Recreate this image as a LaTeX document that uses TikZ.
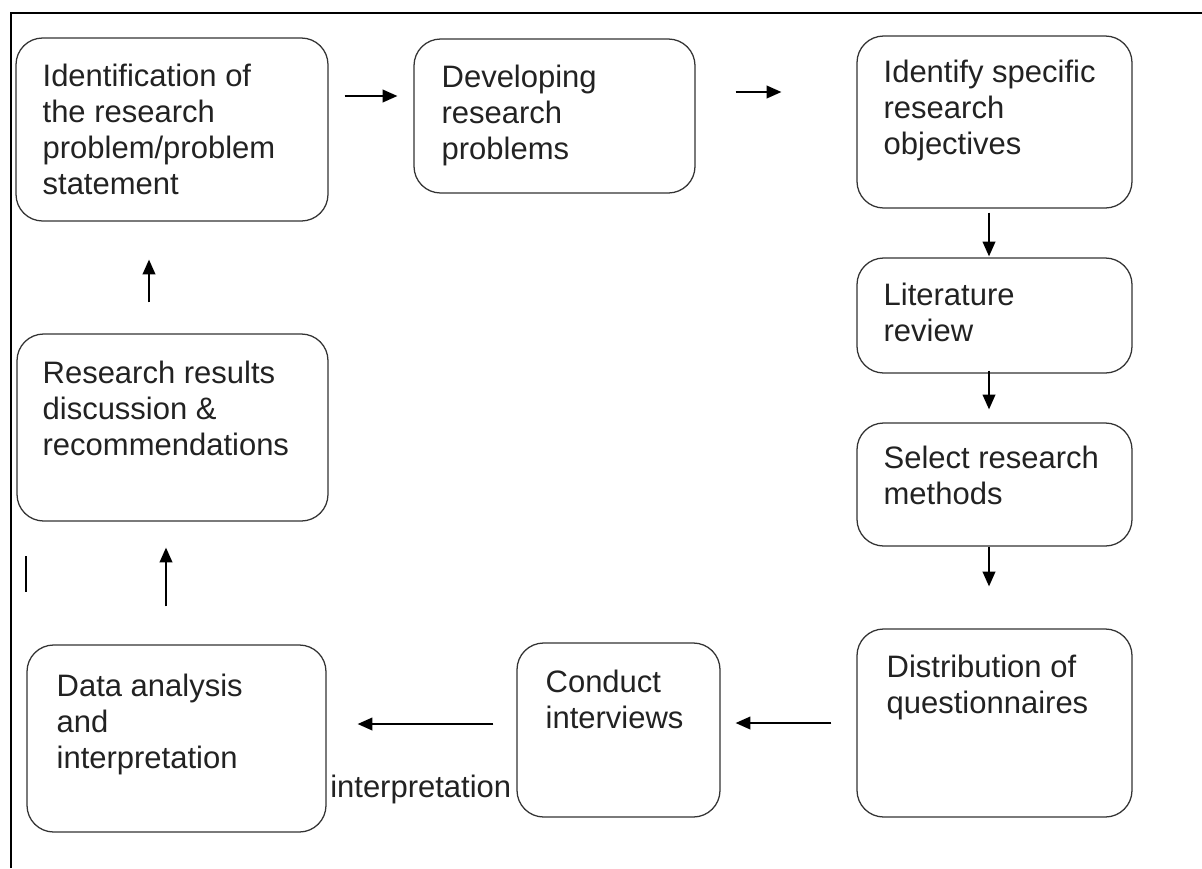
\documentclass[tikz,border=0pt]{standalone}
\usepackage{fontspec}
\setmainfont{Liberation Sans}
\usetikzlibrary{arrows.meta,fit,calc}
\definecolor{ink}{HTML}{222222}
\definecolor{edge}{HTML}{333333}
\begin{document}
\begin{tikzpicture}[x=0.75pt,y=-0.75pt,
  box/.style={draw=edge, rounded corners=20pt, line width=0.95pt, inner sep=0pt},
  txt/.style={anchor=north west, align=left, inner sep=0pt, text=ink, font=\fontsize{23.25}{27}\selectfont},
  arr/.style={line width=1.1pt, -{Triangle[length=11pt,width=9.5pt]}},
  frameline/.style={line width=1.2pt}]
\useasboundingbox (0,0) rectangle (1202,868);
\draw[frameline] (11,868) -- (11,13) -- (1202,13);
% boxes
\node[box, fit={(16,38) (328,221)}] (b1) {};
\node[box, fit={(414,39) (695,193)}] (b2) {};
\node[box, fit={(857,36) (1132,208)}] (b3) {};
\node[box, fit={(857,258) (1132,373)}] (b4) {};
\node[box, fit={(857,423) (1132,546)}] (b5) {};
\node[box, fit={(857,629) (1132,817)}] (b6) {};
\node[box, fit={(517,643) (720,817)}] (b7) {};
\node[box, fit={(27,645) (326,832)}] (b8) {};
\node[box, fit={(17,334) (328,521)}] (b9) {};
% texts
\node[txt] (t1) at ([shift={(27,26)}]b1.north west) {Identification of\\the research\\problem/problem\\statement};
\node[txt] (t2) at ([shift={(28,26)}]b2.north west) {Developing\\research\\problems};
\node[txt] (t3) at ([shift={(27,24)}]b3.north west) {Identify specific\\research\\objectives};
\node[txt] (t4) at ([shift={(27,25)}]b4.north west) {Literature\\review};
\node[txt] (t5) at ([shift={(27,23)}]b5.north west) {Select research\\methods};
\node[txt] (t6) at ([shift={(30,26)}]b6.north west) {Distribution of\\questionnaires};
\node[txt] (t7) at ([shift={(29,27)}]b7.north west) {Conduct\\interviews};
\node[txt] (t8) at ([shift={(30,29)}]b8.north west) {Data analysis\\and\\interpretation};
\node[txt] (t9) at ([shift={(26,27)}]b9.north west) {Research results\\discussion \&\\recommendations};
\node[txt, anchor=base west] (lbl) at (330,797) {interpretation};
% connectors
\draw[arr] ([shift={(16,-33.5)}]b1.east) -- ([shift={(-16,-20)}]b2.west);
\draw[arr] ([shift={(40,-24)}]b2.east) -- ([shift={(-75,-30)}]b3.west);
\draw[arr] ([shift={(-5.5,4)}]b3.south) -- ([shift={(-5.5,-1)}]b4.north);
\draw[arr] ([shift={(-5.5,-3)}]b4.south) -- ([shift={(-5.5,-13)}]b5.north);
\draw[arr] ([shift={(-5.5,0)}]b5.south) -- ([shift={(-5.5,-42)}]b6.north);
\draw[arr] ([shift={(-25,0)}]b6.west) -- ([shift={(15,-7)}]b7.east);
\draw[arr] ([shift={(-23,-6)}]b7.west) -- ([shift={(31,-14.5)}]b8.east);
\draw[arr] ([shift={(-10.5,-38)}]b8.north) -- ([shift={(-6.5,26)}]b9.south);
\draw[arr] ([shift={(-23.5,-31)}]b9.north) -- ([shift={(-23,38)}]b1.south);
% stray mark
\draw[line width=1.1pt] (26,556) -- (26,592);
\end{tikzpicture}
\end{document}
